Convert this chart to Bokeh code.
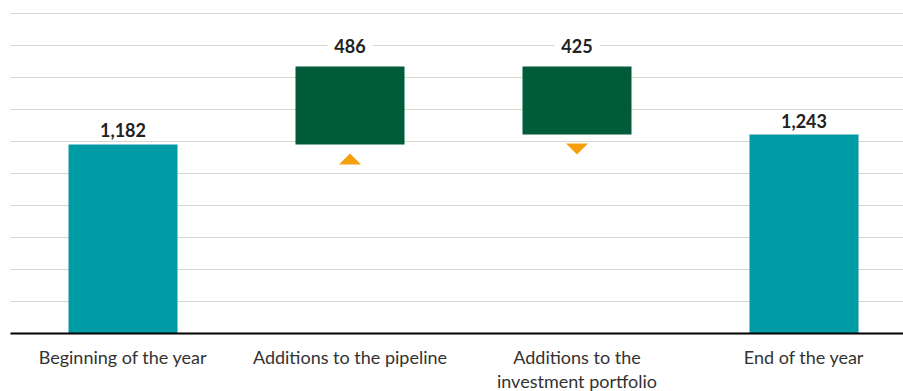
from bokeh.plotting import figure
from bokeh.models import Range1d, FixedTicker, ColumnDataSource
from bokeh.core.properties import value
from bokeh.embed import file_html
from bokeh.resources import INLINE

categories = ["Beginning of the year", "Additions to the pipeline",
              "Additions to the investment portfolio", "End of the year"]
category_labels = ["Beginning of the year", "Additions to the pipeline",
                   "Additions to the\ninvestment portfolio", "End of the year"]
values = [1182, 486, -425, 1243]
kinds = ["total", "delta", "delta", "total"]
grid_ticks = [200, 400, 600, 800, 1000, 1200, 1400, 1600, 1800, 2000]

TEAL = "#009CA6"
GREEN = "#005C38"
ORANGE = "#F59F0F"
GRID = "#D8D6CD"
TEXT = "#222222"

# waterfall geometry from data
xs = list(range(len(categories)))
bottoms, tops, colors = [], [], []
running = 0
for v, k in zip(values, kinds):
    if k == "total":
        bottoms.append(0)
        tops.append(v)
        colors.append(TEAL)
        running = v
    else:
        new = running + v
        bottoms.append(min(running, new))
        tops.append(max(running, new))
        colors.append(GREEN)
        running = new

W = 903
left = 10
frame_w, frame_h = W - left, 333
px_per_x = 227.0
x_start = -112.5 / px_per_x
x_end = x_start + frame_w / px_per_x
y_end = 2000 * frame_h / 320.0
px_per_y = frame_h / y_end

p = figure(frame_width=frame_w, frame_height=frame_h, output_backend="svg",
           toolbar_location=None,
           x_range=Range1d(x_start, x_end), y_range=Range1d(0, y_end),
           min_border_left=left, min_border_right=0, min_border_top=0,
           min_border_bottom=0, outline_line_color=None,
           background_fill_color="white", border_fill_color="white")

p.yaxis.visible = False
p.xgrid.visible = False
p.ygrid.ticker = FixedTicker(ticks=grid_ticks)
p.ygrid.grid_line_color = GRID
p.ygrid.grid_line_width = 1

src = ColumnDataSource(dict(x=xs, bottom=bottoms, top=tops, color=colors))
p.vbar(x="x", bottom="bottom", top="top", width=109 / px_per_x, color="color",
       source=src, line_color=None)

# triangles below delta bars
tri_xs, tri_ys = [], []
hw = 11 / px_per_x
for x, v, k, b in zip(xs, values, kinds, bottoms):
    if k != "delta":
        continue
    y_near = b - 9 / px_per_y
    y_far = b - 20 / px_per_y
    if v > 0:
        tri_xs.append([x - hw, x + hw, x])
        tri_ys.append([y_far, y_far, y_near])
    else:
        tri_xs.append([x - hw, x + hw, x])
        tri_ys.append([y_near, y_near, y_far])
p.patches(tri_xs, tri_ys, fill_color=ORANGE, line_color=None)

# value labels
lab_tot = dict(x=[], y=[], t=[])
lab_del = dict(x=[], y=[], t=[])
for x, v, k, t in zip(xs, values, kinds, tops):
    d = lab_tot if k == "total" else lab_del
    d["x"].append(x)
    d["y"].append(t)
    d["t"].append(f"{abs(v):,}")

p.text(x="x", y="y", text="t", source=ColumnDataSource(lab_tot),
       text_align="center", text_baseline="middle", y_offset=-14,
       text_font=value("Lato"), text_font_style="bold", text_font_size="18px",
       text_color=TEXT)
p.text(x="x", y="y", text="t", source=ColumnDataSource(lab_del),
       text_align="center", text_baseline="middle", y_offset=-21,
       text_font=value("Lato"), text_font_style="bold", text_font_size="18px",
       text_color=TEXT, background_fill_color="white", padding=7)

ax = p.xaxis[0]
ax.ticker = FixedTicker(ticks=xs)
ax.major_label_overrides = {i: lab for i, lab in enumerate(category_labels)}
ax.axis_line_color = "black"
ax.axis_line_width = 2
ax.major_tick_line_color = None
ax.minor_tick_line_color = None
ax.major_tick_out = 0
ax.major_tick_in = 0
ax.minor_tick_out = 0
ax.minor_tick_in = 0
ax.major_label_standoff = 12
ax.major_label_text_font = "Lato"
ax.major_label_text_font_size = "18px"
ax.major_label_text_line_height = 1.1
ax.major_label_text_color = "#333333"

open("out.html", "w").write(file_html(p, INLINE))
